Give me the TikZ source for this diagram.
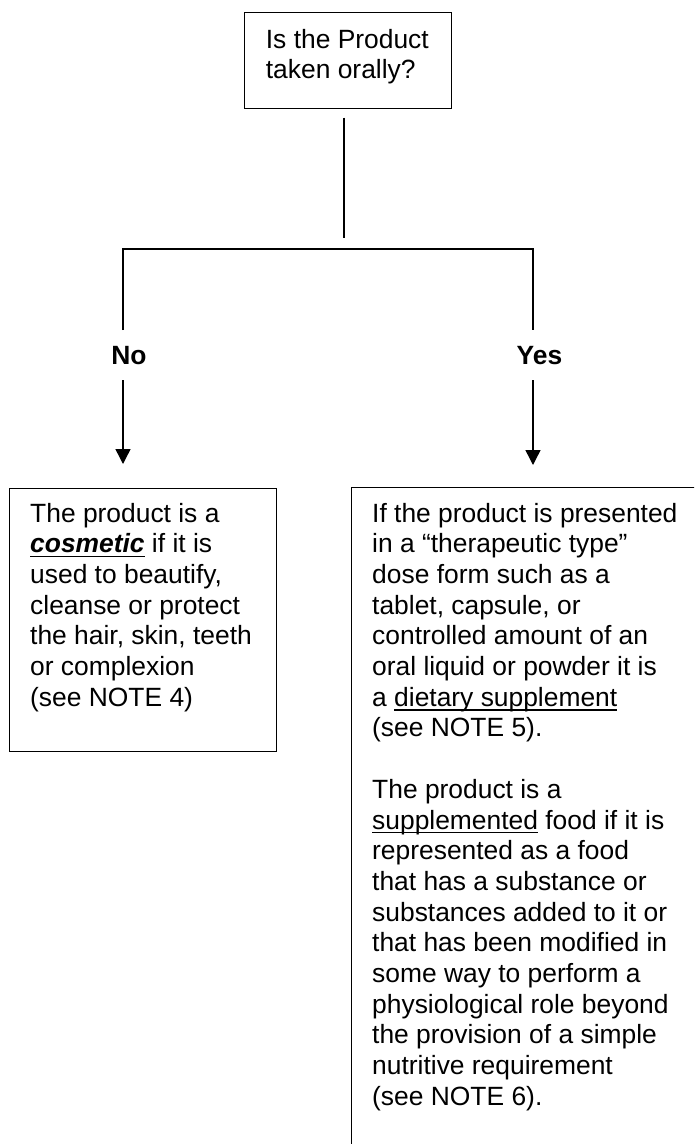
\documentclass[tikz,border=0pt]{standalone}
\usepackage{fontspec}
\setmainfont{Liberation Sans}
\usetikzlibrary{arrows.meta}
\newsavebox{\mybox}
\newcommand{\myul}[1]{\leavevmode\sbox{\mybox}{#1}\rlap{\rule[-4.4pt]{\wd\mybox}{1.4pt}}\usebox{\mybox}}
\tikzset{
  box/.style={draw, line width=1pt, inner sep=0pt},
  txt/.style={anchor=base west, inner sep=0pt, font=\fontsize{26.4pt}{30.7pt}\selectfont},
  conn/.style={line width=1.4pt},
  arr/.style={conn, -{Triangle[width=15pt,length=15pt]}},
  lbl/.style={anchor=base, inner sep=0pt, font=\fontsize{26.4pt}{30.7pt}\selectfont\bfseries}
}
\begin{document}
\begin{tikzpicture}[x=1pt,y=-1pt]
\useasboundingbox (0,0) rectangle (694,1144);
\clip (0,0) rectangle (694,1144);
% question box
\node[box, minimum width=207pt, minimum height=96pt] (q) at (347.5,60) {};
\node[txt] (qt) at (265.7,48) {\begin{minipage}[t]{200pt}\raggedright\baselineskip=30pt Is the Product\\ taken orally?\end{minipage}};
% stem and branch
\coordinate (stemEnd) at (344,238);
\coordinate (jL) at (123,249);
\coordinate (jR) at (533,249);
\coordinate (dL) at (123,330);
\coordinate (dR) at (533,330);
\draw[conn] ([xshift=-3.5pt,yshift=-9pt]q.south) -- (stemEnd);
\draw[conn] (dL) -- (jL) -- (jR) -- (dR);
% labels
\node[lbl] (no) at (129,364) {No};
\node[lbl] (yes) at (539.5,364) {Yes};
% arrows
\coordinate (aLs) at (123,380);
\coordinate (aLe) at (123,464);
\coordinate (aRs) at (533,380);
\coordinate (aRe) at (533,465);
\draw[arr] (aLs) -- (aLe);
\draw[arr] (aRs) -- (aRe);
% cosmetic box
\node[box, minimum width=267pt, minimum height=263pt, anchor=north west] (cosm) at (9,488) {};
\node[txt] (cosmt) at (30,522) {\begin{minipage}[t]{250pt}\raggedright
The product is a\\
\myul{\textbf{\textit{cosmetic}}} if it is\\
used to beautify,\\
cleanse or protect\\
the hair, skin, teeth\\
or complexion\\
(see NOTE 4)\end{minipage}};
% supplement box (runs past the page edge)
\node[box, minimum width=370pt, minimum height=700pt, anchor=north west] (supp) at (351,487) {};
\node[txt] (suppt) at (372,522) {\begin{minipage}[t]{360pt}\raggedright
If the product is presented\\
in a “therapeutic type”\\
dose form such as a\\
tablet, capsule, or\\
controlled amount of an\\
oral liquid or powder it is\\
a \myul{dietary supplement}\\
(see NOTE 5).\\[30.7pt]
The product is a\\
\myul{supplemented} food if it is\\
represented as a food\\
that has a substance or\\
substances added to it or\\
that has been modified in\\
some way to perform a\\
physiological role beyond\\
the provision of a simple\\
nutritive requirement\\
(see NOTE 6).\end{minipage}};
\end{tikzpicture}
\end{document}
